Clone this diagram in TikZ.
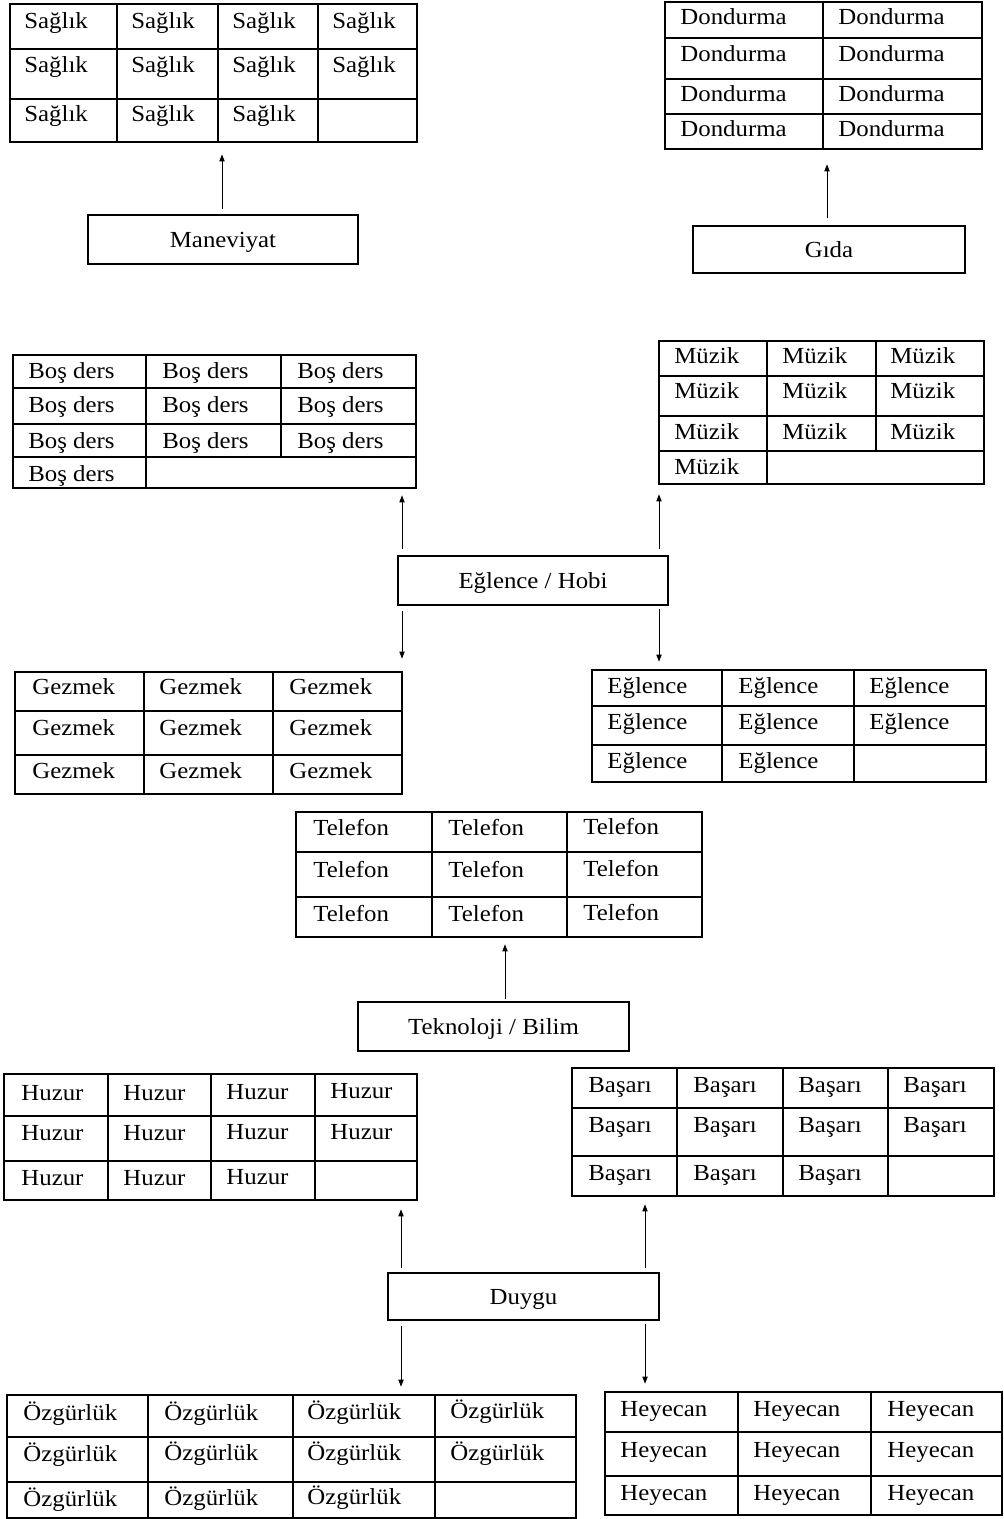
\documentclass[tikz,border=0pt]{standalone}
\usepackage{fontspec}
\setmainfont{Liberation Serif}[FakeStretch=1.08]
\usetikzlibrary{fit,arrows.meta}
\newcommand\fs{\fontsize{11.5}{12}\selectfont}
\newcommand\tcells[3]{\foreach \cx/\cy [count=\k] in {#3} {\node[cell] (#1-\k) at (\cx,\cy) {#2};}}
\tikzset{
 tbl/.style={draw, line width=1.3pt, inner sep=0pt},
 gridl/.style={line width=1.3pt},
 boxs/.style={draw, line width=0.6pt, inner sep=0pt},
 cell/.style={anchor=base west, inner sep=0pt, font=\fs},
 lbl/.style={anchor=base, inner sep=0pt, font=\fs},
 arr/.style={line width=0.5pt, -{Triangle[length=3.5pt,width=2.6pt]}},
}
\begin{document}
\begin{tikzpicture}[x=0.5pt,y=-0.5pt]
\useasboundingbox (0,0) rectangle (1003,1519);

% ---------- Sağlık ----------
\node[tbl, fit={(10,4) (417,142)}] (sag) {};
\foreach \v in {117,218,318} \draw[gridl] (\v,4) -- (\v,142);
\foreach \h in {49,99} \draw[gridl] (10,\h) -- (417,\h);
\tcells{sagc}{Sağlık}{24/29,131/29,232/29,332/29,24/73,131/73,232/73,332/73,24/122,131/122,232/122}

% ---------- Maneviyat ----------
\node[boxs, fit={(88,215) (358,264)}] (man) {};
\node[lbl] (manl) at ([yshift=-4pt]man.center) {Maneviyat};

% ---------- Dondurma ----------
\node[tbl, fit={(665,2) (982,149)}] (don) {};
\draw[gridl] (823,2) -- (823,149);
\foreach \h in {38,79,114} \draw[gridl] (665,\h) -- (982,\h);
\tcells{donc}{Dondurma}{680/25,838/25,680/62,838/62,680/102,838/102,680/137,838/137}

% ---------- Gıda ----------
\node[boxs, fit={(693,226) (965,273)}] (gida) {};
\node[lbl] (gidal) at ([yshift=-3.8pt]gida.center) {Gıda};

% ---------- Boş ders ----------
\node[tbl, fit={(13,355) (416,488)}] (bos) {};
\draw[gridl] (146,355) -- (146,488);
\draw[gridl] (281,355) -- (281,457);
\foreach \h in {388,424,457} \draw[gridl] (13,\h) -- (416,\h);
\tcells{bosc}{Boş ders}{28/379,162/379,297/379,28/412,162/412,297/412,28/448,162/448,297/448,28/481}

% ---------- Müzik ----------
\node[tbl, fit={(659,341) (984,484)}] (muz) {};
\draw[gridl] (767,341) -- (767,484);
\draw[gridl] (876,341) -- (876,451);
\foreach \h in {376,416,451} \draw[gridl] (659,\h) -- (984,\h);
\tcells{muzc}{Müzik}{674/364,782/364,890/364,674/399,782/399,890/399,674/439,782/439,890/439,674/474}

% ---------- Eğlence / Hobi ----------
\node[boxs, fit={(398,556) (668,605)}] (eh) {};
\node[lbl] (ehl) at ([yshift=-4pt]eh.center) {Eğlence / Hobi};

% ---------- Gezmek ----------
\node[tbl, fit={(15,672) (402,794)}] (gez) {};
\foreach \v in {144,273} \draw[gridl] (\v,672) -- (\v,794);
\foreach \h in {711,755} \draw[gridl] (15,\h) -- (402,\h);
\tcells{gezc}{Gezmek}{32/694,159/694,289/694,32/735,159/735,289/735,32/778,159/778,289/778}

% ---------- Eğlence ----------
\node[tbl, fit={(592,670) (986,782)}] (egl) {};
\foreach \v in {722,854} \draw[gridl] (\v,670) -- (\v,782);
\foreach \h in {706,745} \draw[gridl] (592,\h) -- (986,\h);
\tcells{eglc}{Eğlence}{607/693,738/693,869/693,607/729,738/729,869/729,607/768,738/768}

% ---------- Telefon ----------
\node[tbl, fit={(296,812) (702,937)}] (tel) {};
\foreach \v in {432,567} \draw[gridl] (\v,812) -- (\v,937);
\foreach \h in {852,897} \draw[gridl] (296,\h) -- (702,\h);
\tcells{telc}{Telefon}{313/835,448/835,583/834,313/877,448/877,583/876,313/921,448/921,583/920}

% ---------- Teknoloji / Bilim ----------
\node[boxs, fit={(358,1002) (629,1051)}] (tek) {};
\node[lbl] (tekl) at ([yshift=-4pt]tek.center) {Teknoloji / Bilim};

% ---------- Huzur ----------
\node[tbl, fit={(4,1074) (417,1200)}] (huz) {};
\foreach \v in {108,211,315} \draw[gridl] (\v,1074) -- (\v,1200);
\foreach \h in {1116,1161} \draw[gridl] (4,\h) -- (417,\h);
\tcells{huzc}{Huzur}{21/1100,123/1100,226/1099,330/1098,21/1140,123/1140,226/1139,330/1139,21/1185,123/1185,226/1184}

% ---------- Başarı ----------
\node[tbl, fit={(572,1068) (994,1196)}] (bas) {};
\foreach \v in {677,783,888} \draw[gridl] (\v,1068) -- (\v,1196);
\foreach \h in {1108,1156} \draw[gridl] (572,\h) -- (994,\h);
\tcells{basc}{Başarı}{588/1092,693/1092,798/1092,903/1092,588/1132,693/1132,798/1132,903/1132,588/1180,693/1180,798/1180}

% ---------- Duygu ----------
\node[boxs, fit={(388,1273) (659,1320)}] (duy) {};
\node[lbl] (duyl) at ([yshift=-4pt]duy.center) {Duygu};

% ---------- Özgürlük ----------
\node[tbl, fit={(7,1395) (576,1518)}] (ozg) {};
\foreach \v in {148,293,435} \draw[gridl] (\v,1395) -- (\v,1518);
\foreach \h in {1437,1482} \draw[gridl] (7,\h) -- (576,\h);
\tcells{ozgc}{Özgürlük}{23/1420,164/1420,307/1419,450/1418,23/1461,164/1460,307/1460,450/1460,23/1506,164/1505,307/1504}

% ---------- Heyecan ----------
\node[tbl, fit={(605,1392) (1002,1515)}] (hey) {};
\foreach \v in {738,871} \draw[gridl] (\v,1392) -- (\v,1515);
\foreach \h in {1432,1476} \draw[gridl] (605,\h) -- (1002,\h);
\tcells{heyc}{Heyecan}{620/1416,753/1416,887/1416,620/1457,753/1457,887/1457,620/1500,753/1500,887/1500}

% ---------- arrows ----------
\coordinate (xman) at (222,0);
\coordinate (xgid) at (827,0);
\coordinate (xehl) at (402,0);
\coordinate (xehr) at (659,0);
\coordinate (xtek) at (505,0);
\coordinate (xdul) at (401,0);
\coordinate (xdur) at (645,0);

\draw[arr, shorten <=2.5pt, shorten >=5.5pt] (man.north -| xman) -- (sag.south -| xman);
\draw[arr, shorten <=3.5pt, shorten >=7pt] (gida.north -| xgid) -- (don.south -| xgid);
\draw[arr, shorten <=3pt, shorten >=3pt] (eh.north -| xehl) -- (bos.south -| xehl);
\draw[arr, shorten <=3pt, shorten >=4.5pt] (eh.north -| xehr) -- (muz.south -| xehr);
\draw[arr, shorten <=2.5pt, shorten >=6pt] (eh.south -| xehl) -- (gez.north -| xehl);
\draw[arr, shorten <=1.5pt, shorten >=3.5pt] (eh.south -| xehr) -- (egl.north -| xehr);
\draw[arr, shorten <=1pt, shorten >=3pt] (tek.north -| xtek) -- (tel.south -| xtek);
\draw[arr, shorten <=2pt, shorten >=4pt] (duy.north -| xdul) -- (huz.south -| xdul);
\draw[arr, shorten <=2pt, shorten >=3.5pt] (duy.north -| xdur) -- (bas.south -| xdur);
\draw[arr, shorten <=2.5pt, shorten >=3.5pt] (duy.south -| xdul) -- (ozg.north -| xdul);
\draw[arr, shorten <=1.5pt, shorten >=3.5pt] (duy.south -| xdur) -- (hey.north -| xdur);
\end{tikzpicture}
\end{document}
